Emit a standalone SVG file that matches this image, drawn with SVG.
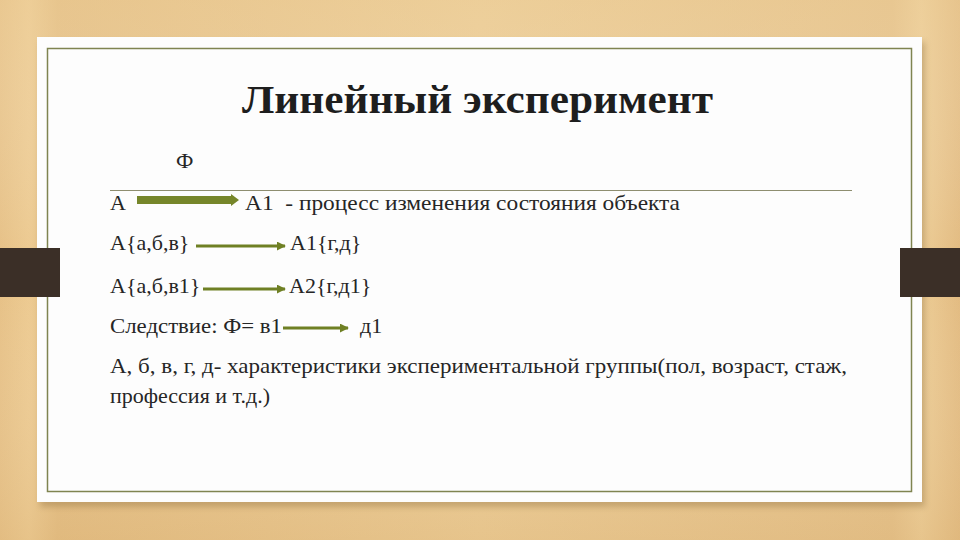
<svg xmlns="http://www.w3.org/2000/svg" width="960" height="540" viewBox="0 0 960 540">
<defs>
<linearGradient id="wood" x1="0" y1="0" x2="1" y2="0">
<stop offset="0" stop-color="#e6c085"/>
<stop offset="0.03" stop-color="#ecc98f"/>
<stop offset="0.06" stop-color="#e3bc80"/>
<stop offset="0.5" stop-color="#ebca92"/>
<stop offset="0.93" stop-color="#e4bf86"/>
<stop offset="0.96" stop-color="#eccb93"/>
<stop offset="1" stop-color="#e2ba7f"/>
</linearGradient>
<linearGradient id="woodv" x1="0" y1="0" x2="0" y2="1">
<stop offset="0" stop-color="#f0d6a6" stop-opacity="0.35"/>
<stop offset="0.5" stop-color="#ffffff" stop-opacity="0"/>
<stop offset="1" stop-color="#d9b278" stop-opacity="0.25"/>
</linearGradient>
<filter id="shadow" x="-5%" y="-5%" width="110%" height="115%">
<feGaussianBlur stdDeviation="3"/>
</filter>
<marker id="headThin" viewBox="0 0 10 10" refX="9" refY="5" markerWidth="3" markerHeight="3" orient="auto" markerUnits="strokeWidth">
<path d="M0,0 L10,5 L0,10 Z" fill="#6f8024"/>
</marker>
</defs>
<style>
.body{font-family:"Liberation Serif","DejaVu Serif",serif;font-size:22px;fill:#262626;}
.title{font-family:"Liberation Serif","DejaVu Serif",serif;font-size:40px;font-weight:bold;fill:#1e1e1e;}
.thin{stroke:#6f8024;stroke-width:3;fill:none;marker-end:url(#headThin);}
</style>
<rect x="0" y="0" width="960" height="540" fill="url(#wood)"/>
<rect x="0" y="0" width="960" height="540" fill="url(#woodv)"/>
<rect x="40" y="42" width="885" height="465" fill="#9a7a4a" opacity="0.45" filter="url(#shadow)"/>
<rect x="37" y="37" width="885" height="465" fill="#fdfdfd"/>
<rect x="47.5" y="48.5" width="864" height="443" fill="none" stroke="#7f8450" stroke-width="1.5"/>
<rect x="0" y="248" width="60" height="49" fill="#3b2f27"/>
<rect x="900" y="248" width="60" height="49" fill="#3b2f27"/>
<line x1="110" y1="190.5" x2="852" y2="190.5" stroke="#8e8e70" stroke-width="1"/>

<g id="title"><text class="title" x="242" y="113" textLength="471" lengthAdjust="spacingAndGlyphs">Линейный эксперимент</text></g>
<g id="phi"><text class="body" x="176" y="168">Ф</text></g>
<g id="row1">
<text class="body" x="110" y="210">А</text>
<text class="body" x="245" y="210" xml:space="preserve" textLength="435" lengthAdjust="spacingAndGlyphs">А1  - процесс изменения состояния объекта</text>
</g>
<g id="row2">
<text class="body" x="110" y="250">А{а,б,в}</text>
<text class="body" x="290" y="250">А1{г,д}</text>
</g>
<g id="row3">
<text class="body" x="110" y="293">А{а,б,в1}</text>
<text class="body" x="289" y="293">А2{г,д1}</text>
</g>
<g id="row4">
<text class="body" x="110" y="333" textLength="172" lengthAdjust="spacingAndGlyphs">Следствие: Ф= в1</text>
<text class="body" x="360" y="333">д1</text>
</g>
<g id="note">
<text class="body" x="110" y="373" textLength="737" lengthAdjust="spacingAndGlyphs">А, б, в, г, д- характеристики экспериментальной группы(пол, возраст, стаж,</text>
<text class="body" x="110" y="403">профессия и т.д.)</text>
</g>
<g id="connectors">
<path d="M137,196 L231,196 L231,194 L239,200 L231,206 L231,204 L137,204 Z" fill="#76862a"/>
<line class="thin" x1="196" y1="246" x2="285" y2="246"/>
<line class="thin" x1="203" y1="289" x2="285" y2="289"/>
<line class="thin" x1="283" y1="328" x2="348" y2="328"/>
</g>
</svg>
